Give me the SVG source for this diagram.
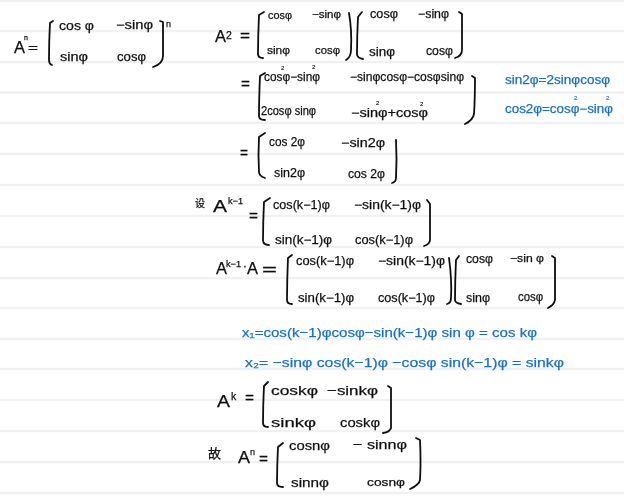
<svg xmlns="http://www.w3.org/2000/svg" width="624" height="499" viewBox="0 0 624 499">
<defs>
<filter id="soft" x="-5%" y="-5%" width="110%" height="110%"><feGaussianBlur stdDeviation="0.3"/></filter>
</defs>
<style>
.rule{stroke:#f0f1f4;stroke-width:2.500;fill:none}
.br{fill:none;stroke:#111;stroke-width:1.800;stroke-linecap:round;stroke-linejoin:round}
text{font-family:"Liberation Sans","Noto Sans CJK SC",sans-serif;font-size:12px;fill:#111;stroke:#111;stroke-width:.25}
.b text{fill:#1a6fc4;stroke:#1a6fc4}
.l{font-size:16px}
.s{font-size:9px}
.t{font-size:6px;stroke-width:.15}
.m{font-size:10.500px}
.w{font-size:13.500px}
</style>
<rect width="624" height="499" fill="#fff"/>
<g id="ruled-lines">
<path class="rule" d="M0 1H624M0 31H624M0 62H624M0 92.500H624M0 123H624M0 154H624M0 185H624M0 216H624M0 247H624M0 278H624M0 308H624M0 339H624M0 369H624M0 400H624M0 431H624M0 462H624M0 493H624"/>
</g>
<g filter="url(#soft)">
<g id="eq-An">
<text class="l" x="14" y="53" textLength="11" lengthAdjust="spacingAndGlyphs">A</text><text class="s" x="24" y="40" style="font-size:7px">n</text><text x="28" y="52" textLength="10" lengthAdjust="spacingAndGlyphs">=</text>
<path class="br" d="M53 21L50 23Q49 40 49 60Q49 64 52 65"/>
<text class="w" x="59" y="30" textLength="35" lengthAdjust="spacingAndGlyphs">cos φ</text><text x="116" y="29" textLength="37" lengthAdjust="spacingAndGlyphs">−sinφ</text>
<text x="60" y="61" textLength="28" lengthAdjust="spacingAndGlyphs">sinφ</text><text x="117" y="61" textLength="29" lengthAdjust="spacingAndGlyphs">cosφ</text>
<path class="br" d="M160 21L163 22Q163 40 163 56Q163 64 153 67"/><text class="s" x="166" y="27">n</text>
</g>
<g id="eq-A2">
<text class="l" x="215" y="42" textLength="11" lengthAdjust="spacingAndGlyphs">A</text><text class="m" x="226" y="39">2</text><text class="l" x="240" y="41" textLength="10" lengthAdjust="spacingAndGlyphs">=</text>
<path class="br" d="M264 12L259 15Q258 35 258 54Q258 58 263 58"/>
<text class="m" x="268" y="19" textLength="24" lengthAdjust="spacingAndGlyphs">cosφ</text><text class="m" x="312" y="18" textLength="29" lengthAdjust="spacingAndGlyphs">−sinφ</text>
<text class="m" x="267" y="54" textLength="23" lengthAdjust="spacingAndGlyphs">sinφ</text><text class="m" x="315" y="54" textLength="25" lengthAdjust="spacingAndGlyphs">cosφ</text>
<path class="br" d="M349 13Q352 30 351 50Q351 57 346 60"/><path class="br" d="M362 12L358 17Q357 36 357 54Q357 58 363 59"/>
<text x="370" y="18" textLength="28" lengthAdjust="spacingAndGlyphs">cosφ</text><text x="418" y="18" textLength="31" lengthAdjust="spacingAndGlyphs">−sinφ</text>
<text x="369" y="56" textLength="26" lengthAdjust="spacingAndGlyphs">sinφ</text><text x="426" y="55" textLength="27" lengthAdjust="spacingAndGlyphs">cosφ</text>
<path class="br" d="M459 12L462 14Q462 35 462 50Q462 56 455 58"/>
</g>
<g id="eq-expand">
<text class="l" x="241" y="89" textLength="9" lengthAdjust="spacingAndGlyphs">=</text>
<path class="br" d="M265 73L260 76Q259 98 259 116Q259 120 265 120"/>
<text x="264" y="81" textLength="56" lengthAdjust="spacingAndGlyphs">cosφ−sinφ</text><text class="t" x="281" y="70">2</text><text class="t" x="312" y="69">2</text>
<text x="350" y="81" textLength="114" lengthAdjust="spacingAndGlyphs">−sinφcosφ−cosφsinφ</text>
<text x="261" y="115" textLength="55" lengthAdjust="spacingAndGlyphs">2cosφ sinφ</text>
<text x="351" y="117" textLength="77" lengthAdjust="spacingAndGlyphs">−sinφ+cosφ</text><text class="t" x="376" y="105">2</text><text class="t" x="420" y="106">2</text>
<path class="br" d="M472 76L475 78Q475 98 474 114Q473 120 465 124"/>
</g>
<g id="eq-double">
<text class="l" x="240" y="158" textLength="8" lengthAdjust="spacingAndGlyphs">=</text>
<path class="br" d="M265 133L259 137Q258 155 259 172Q259 176 265 178"/>
<text class="w" x="269" y="146" textLength="36" lengthAdjust="spacingAndGlyphs">cos 2φ</text><text x="341" y="147" textLength="44" lengthAdjust="spacingAndGlyphs">−sin2φ</text>
<text class="w" x="274" y="177" textLength="31" lengthAdjust="spacingAndGlyphs">sin2φ</text><text x="348" y="178" textLength="37" lengthAdjust="spacingAndGlyphs">cos 2φ</text>
<path class="br" d="M396 140Q397 160 396 178Q396 182 392 183"/>
</g>
<g id="eq-Ak1">
<text x="195" y="207" style="font-size:10px">设</text><text class="l" x="213" y="212" textLength="14" lengthAdjust="spacingAndGlyphs">A</text><text class="s" x="228" y="204" textLength="15" lengthAdjust="spacingAndGlyphs">k−1</text><text class="l" x="249" y="221" textLength="9" lengthAdjust="spacingAndGlyphs">=</text>
<path class="br" d="M270 198L264 202Q263 222 263 240Q263 245 269 245"/>
<text x="273" y="209" textLength="57" lengthAdjust="spacingAndGlyphs">cos(k−1)φ</text><text x="354" y="209" textLength="67" lengthAdjust="spacingAndGlyphs">−sin(k−1)φ</text>
<text x="275" y="244" textLength="57" lengthAdjust="spacingAndGlyphs">sin(k−1)φ</text><text x="355" y="244" textLength="58" lengthAdjust="spacingAndGlyphs">cos(k−1)φ</text>
<path class="br" d="M427 200L430 204Q430 222 430 240Q430 244 424 246"/>
</g>
<g id="eq-product">
<text class="l" x="216" y="274" textLength="11" lengthAdjust="spacingAndGlyphs">A</text><text class="s" x="226" y="267" textLength="15" lengthAdjust="spacingAndGlyphs">k−1</text><text x="243" y="270">·</text><text class="l" x="247" y="274" textLength="11" lengthAdjust="spacingAndGlyphs">A</text><text class="l" x="262" y="275" textLength="15" lengthAdjust="spacingAndGlyphs">=</text>
<path class="br" d="M292 255L288 258Q287 280 287 300Q287 304 292 304"/>
<text x="296" y="265" textLength="58" lengthAdjust="spacingAndGlyphs">cos(k−1)φ</text><text x="378" y="265" textLength="67" lengthAdjust="spacingAndGlyphs">−sin(k−1)φ</text>
<text x="298" y="302" textLength="56" lengthAdjust="spacingAndGlyphs">sin(k−1)φ</text><text x="378" y="302" textLength="57" lengthAdjust="spacingAndGlyphs">cos(k−1)φ</text>
<path class="br" d="M449 258Q452 280 451 298Q451 303 447 304"/><path class="br" d="M459 256L456 260Q455 280 455 300Q455 303 461 304"/>
<text x="466" y="263" textLength="27" lengthAdjust="spacingAndGlyphs">cosφ</text><text class="m" x="510" y="262" textLength="34" lengthAdjust="spacingAndGlyphs">−sin φ</text>
<text x="466" y="302" textLength="24" lengthAdjust="spacingAndGlyphs">sinφ</text><text x="518" y="301" textLength="25" lengthAdjust="spacingAndGlyphs">cosφ</text>
<path class="br" d="M552 256L555 258Q555 280 555 300Q554 305 548 308"/>
</g>
<g id="eq-Ak">
<text class="l" x="217" y="407" textLength="13" lengthAdjust="spacingAndGlyphs">A</text><text class="m" x="231" y="400">k</text><text class="l" x="245" y="403" textLength="9" lengthAdjust="spacingAndGlyphs">=</text>
<path class="br" d="M268 382L264 386Q263 404 263 423Q263 427 268 427"/>
<text class="w" x="271" y="395" textLength="47" lengthAdjust="spacingAndGlyphs">coskφ</text><text class="w" x="327" y="395" textLength="51" lengthAdjust="spacingAndGlyphs">−sinkφ</text>
<text class="w" x="271" y="427" textLength="45" lengthAdjust="spacingAndGlyphs">sinkφ</text><text class="w" x="340" y="427" textLength="40" lengthAdjust="spacingAndGlyphs">coskφ</text>
<path class="br" d="M388 386L391 388Q391 410 391 428Q390 432 383 433"/>
</g>
<g id="eq-result">
<text x="208" y="458" style="font-size:13px">故</text><text class="l" x="238" y="463" textLength="12" lengthAdjust="spacingAndGlyphs">A</text><text class="s" x="250" y="455">n</text><text class="l" x="259" y="464" textLength="9" lengthAdjust="spacingAndGlyphs">=</text>
<path class="br" d="M283 443L278 447Q277 466 277 483Q277 487 283 487"/>
<text class="w" x="289" y="450" textLength="41" lengthAdjust="spacingAndGlyphs">cosnφ</text><text class="w" x="353" y="449" textLength="54" lengthAdjust="spacingAndGlyphs">− sinnφ</text>
<text class="w" x="291" y="487" textLength="38" lengthAdjust="spacingAndGlyphs">sinnφ</text><text class="m" x="367" y="486" textLength="38" lengthAdjust="spacingAndGlyphs">cosnφ</text>
<path class="br" d="M416 438L420 440Q421 462 420 480Q419 485 410 489"/>
</g>
<g id="blue-notes" class="b">
<text x="505" y="84" textLength="105" lengthAdjust="spacingAndGlyphs">sin2φ=2sinφcosφ</text>
<text x="505" y="113" textLength="108" lengthAdjust="spacingAndGlyphs">cos2φ=cosφ−sinφ</text><text class="t" x="574" y="100">2</text><text class="t" x="606" y="100">2</text>
<text class="w" x="242" y="337" textLength="295" lengthAdjust="spacingAndGlyphs">x₁=cos(k−1)φcosφ−sin(k−1)φ sin φ = cos kφ</text>
<text class="w" x="245" y="367" textLength="319" lengthAdjust="spacingAndGlyphs">x₂=  −sinφ cos(k−1)φ −cosφ sin(k−1)φ = sinkφ</text>
</g>
</g>
</svg>
